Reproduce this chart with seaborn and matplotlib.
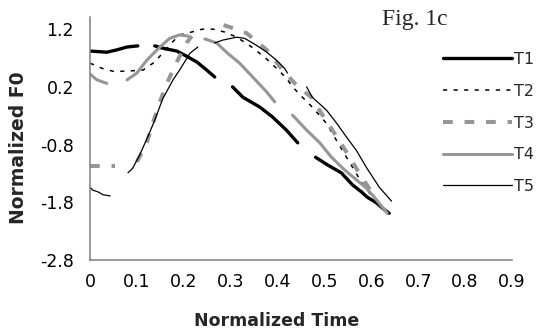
import numpy as np
import pandas as pd
import matplotlib
matplotlib.use("Agg")
import matplotlib.pyplot as plt
from matplotlib.lines import Line2D
import seaborn as sns

nan = np.nan

series_names = ["T1", "T2", "T3", "T4", "T5"]

t1_x = [0.000, 0.036, 0.057, 0.079, 0.102, nan,
        0.138, 0.155, 0.185, 0.206, 0.228, 0.249, 0.266, nan,
        0.304, 0.326, 0.362, 0.389, 0.419, 0.443, nan,
        0.481, 0.506, 0.536, 0.560, 0.579, 0.591, 0.611, 0.628, 0.638]
t1_y = [0.82, 0.80, 0.84, 0.89, 0.91, nan,
        0.91, 0.87, 0.82, 0.73, 0.63, 0.49, 0.37, nan,
        0.20, 0.02, -0.15, -0.32, -0.55, -0.77, nan,
        -1.02, -1.15, -1.29, -1.50, -1.62, -1.71, -1.81, -1.93, -1.99]

t2_x = [0.000, 0.026, 0.049, 0.074, 0.113, 0.138, 0.174, 0.191, 0.217, 0.240,
        0.262, 0.287, 0.313, 0.345, 0.377, 0.398, 0.419, 0.432, 0.453, 0.474,
        0.489, 0.504, 0.528, 0.553, 0.579, 0.596, 0.611]
t2_y = [0.61, 0.52, 0.47, 0.47, 0.49, 0.63, 0.96, 1.10, 1.15, 1.20,
        1.20, 1.15, 1.06, 0.89, 0.68, 0.52, 0.35, 0.20, 0.02, -0.15,
        -0.29, -0.43, -0.76, -1.10, -1.45, -1.64, -1.76]

t3_x = [0.000, 0.015, 0.043, 0.053, nan,
        0.100, 0.121, 0.134, 0.149, 0.164, 0.185, 0.206, 0.217, nan,
        0.285, 0.311, 0.334, 0.377, 0.411, 0.440, 0.472, 0.496, 0.521, 0.547,
        0.570, 0.600, 0.611]
t3_y = [-1.17, -1.17, -1.17, -1.17, nan,
        -1.10, -0.77, -0.43, -0.06, 0.26, 0.63, 0.96, 1.08, nan,
        1.27, 1.20, 1.13, 0.84, 0.49, 0.23, 0.02, -0.29, -0.60, -0.93,
        -1.24, -1.62, -1.69]

t4_x = [0.000, 0.015, 0.036, nan,
        0.079, 0.100, 0.121, 0.149, 0.170, 0.191, 0.209, nan,
        0.245, 0.270, 0.291, 0.319, 0.347, 0.377, 0.394, nan,
        0.432, 0.462, 0.489, 0.515, 0.543, 0.568, 0.589, 0.606, 0.623, 0.634]
t4_y = [0.42, 0.32, 0.26, nan,
        0.32, 0.44, 0.66, 0.89, 1.04, 1.10, 1.08, nan,
        1.03, 0.96, 0.80, 0.61, 0.37, 0.11, -0.06, nan,
        -0.29, -0.55, -0.76, -1.02, -1.24, -1.41, -1.55, -1.71, -1.88, -1.99]

t5_x = [0.000, 0.006, 0.017, 0.028, 0.043, nan,
        0.081, 0.091, 0.106, 0.123, 0.138, 0.155, 0.177, 0.191, 0.213, 0.230, nan,
        0.266, 0.283, 0.313, 0.330, 0.355, 0.377, 0.398, 0.415, 0.421, nan,
        0.462, 0.474, 0.504, 0.526, 0.547, 0.568, 0.589, 0.617, 0.643]
t5_y = [-1.54, -1.59, -1.62, -1.67, -1.69, nan,
        -1.29, -1.21, -0.98, -0.67, -0.38, -0.01, 0.32, 0.49, 0.78, 0.89, nan,
        0.96, 1.01, 1.06, 1.04, 0.92, 0.80, 0.66, 0.52, 0.44, nan,
        0.20, 0.02, -0.20, -0.43, -0.67, -0.90, -1.19, -1.54, -1.78]

y_ticks = [-2.8, -1.8, -0.8, 0.2, 1.2]
y_tick_labels = ["-2.8", "-1.8", "-0.8", "0.2", "1.2"]
x_ticks = [0, 0.1, 0.2, 0.3, 0.4, 0.5, 0.6, 0.7, 0.8, 0.9]
x_tick_labels = ["0", "0.1", "0.2", "0.3", "0.4", "0.5", "0.6", "0.7", "0.8", "0.9"]

xs = [t1_x, t2_x, t3_x, t4_x, t5_x]
ys = [t1_y, t2_y, t3_y, t4_y, t5_y]


def to_frame(x, y):
    seg = 0
    rows = []
    for xi, yi in zip(x, y):
        if np.isnan(xi):
            seg += 1
            continue
        rows.append((xi, yi, seg))
    return pd.DataFrame(rows, columns=["time", "f0", "seg"])


GRAY = "#969696"
styles = {
    "T1": dict(color="black", lw=2.4, ls="-"),
    "T2": dict(color="black", lw=1.1, ls=(0, (3.0, 4.6))),
    "T3": dict(color=GRAY, lw=2.9, ls=(0, (7.0, 8.5))),
    "T4": dict(color=GRAY, lw=2.2, ls="-"),
    "T5": dict(color="black", lw=0.9, ls="-"),
}

sns.set_style("white")
plt.rcParams["font.family"] = ["DejaVu Sans"]
plt.rcParams["lines.scale_dashes"] = False
plt.rcParams["axes.unicode_minus"] = False

fig = plt.figure(figsize=(5.38, 3.29), dpi=100)
ax = fig.add_axes([90 / 538, 1 - 260 / 329, 422 / 538, 243 / 329])

for name, x, y in zip(series_names, xs, ys):
    df = to_frame(x, y)
    st = styles[name]
    sns.lineplot(data=df, x="time", y="f0", units="seg", estimator=None,
                 sort=False, color=st["color"], linewidth=st["lw"],
                 linestyle=st["ls"], ax=ax, legend=False)

ax.set_xlim(0, 0.9)
ax.set_ylim(-2.8, 1.41)
ax.set_xticks(x_ticks)
ax.set_xticklabels(x_tick_labels)
ax.set_yticks(y_ticks)
ax.set_yticklabels(y_tick_labels)

for side in ["top", "right"]:
    ax.spines[side].set_visible(False)
for side in ["left", "bottom"]:
    ax.spines[side].set_color("#808080")
    ax.spines[side].set_linewidth(1.1)
ax.tick_params(axis="both", direction="out", length=5.5, width=1.0,
               color="#808080", labelsize=12.5, labelcolor="black")
ax.tick_params(axis="x", pad=4)
ax.tick_params(axis="y", pad=6)
ax.grid(False)

ax.set_xlabel("Normalized Time", fontsize=12.5, fontweight="bold")
ax.set_ylabel("Normalized F0", fontsize=13.5, fontweight="bold")
ax.xaxis.set_label_coords(0.443, -0.212)
ax.yaxis.set_label_coords(-0.147, 0.461)

handles = [Line2D([0], [0], color=styles[n]["color"], lw=styles[n]["lw"],
                  ls=styles[n]["ls"]) for n in series_names]
fig.legend(handles, series_names, loc="upper left",
           bbox_to_anchor=(443 / 538, 1 - 52 / 329),
           bbox_transform=fig.transFigure, frameon=False,
           fontsize=11.5, handlelength=4.3, handletextpad=0.15,
           labelspacing=1.05, borderpad=0, borderaxespad=0)

fig.text(415 / 538, 1 - 20 / 329, "Fig. 1c", family="Liberation Serif",
         fontsize=17, ha="center", va="center")

fig.savefig("out.png", dpi=100)
